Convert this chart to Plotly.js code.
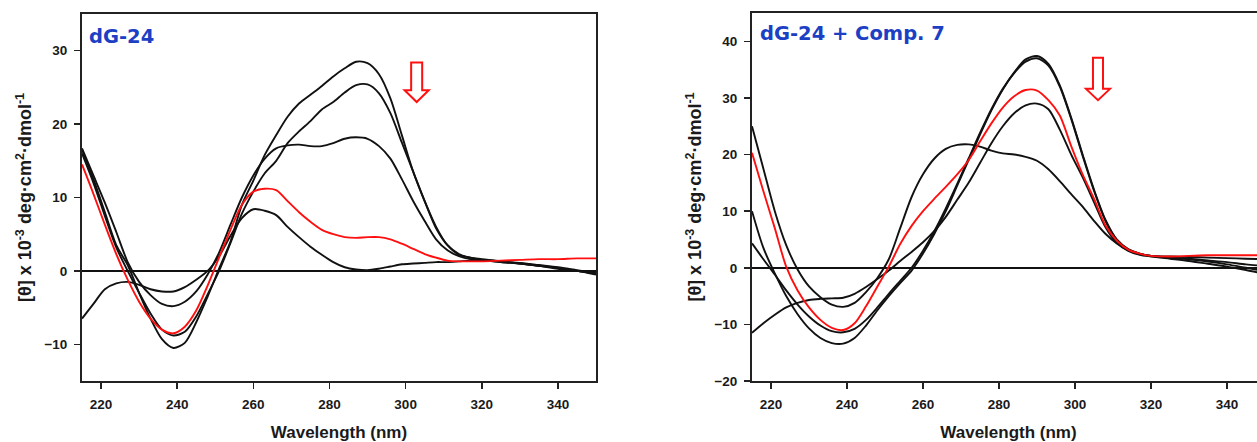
<!DOCTYPE html>
<html>
<head>
<meta charset="utf-8">
<script src="https://cdn.plot.ly/plotly-3.0.1.min.js"></script>
<style>
  html, body { margin: 0; padding: 0; overflow: hidden; background: #fff; }
  #chart { width: 1275px; height: 442px; }
</style>
</head>
<body>
<div id="chart"></div>
<script>
// ---------- Data (wavelength in nm, ellipticity [θ] x 10^-3) ----------
const wavelength = [215, 218, 221, 224, 227, 230, 233, 236, 239, 242, 245, 248, 251, 254, 257, 260, 263, 266, 269, 272, 275, 278, 281, 284, 287, 290, 293, 296, 299, 302, 305, 308, 311, 314, 317, 320, 325, 330, 335, 340, 345, 350];

// Panel 1: dG-24
const dg24_a = [16.5, 12.5, 8.0, 3.5, 0.8, -3.0, -6.5, -9.3, -10.5, -9.8, -7.0, -3.5, 0.3, 4.0, 9.0, 12.3, 15.8, 18.5, 21.0, 22.8, 24.0, 25.2, 26.5, 27.6, 28.5, 28.3, 26.8, 23.5, 18.5, 13.5, 9.5, 6.0, 3.5, 2.2, 1.8, 1.5, 1.2, 1.0, 0.7, 0.4, 0.0, -0.5];
const dg24_b = [16.0, 12.0, 7.5, 3.2, 0.0, -3.0, -5.8, -8.0, -8.8, -8.3, -6.2, -3.2, 0.0, 3.8, 7.8, 10.8, 13.3, 15.0, 17.4, 19.0, 20.4, 22.0, 23.0, 24.3, 25.3, 25.4, 24.2, 21.5, 17.5, 13.5, 9.5, 5.8, 3.5, 2.3, 1.8, 1.6, 1.3, 1.1, 0.8, 0.5, 0.1, -0.3];
const dg24_c = [16.7, 13.0, 9.3, 5.3, 1.2, -1.5, -3.3, -4.5, -4.8, -4.2, -2.8, -0.5, 2.5, 6.3, 10.0, 13.0, 15.3, 16.7, 17.1, 17.2, 17.0, 17.0, 17.4, 18.0, 18.2, 18.0, 17.0, 15.3, 12.5, 9.5, 6.8, 4.3, 2.8, 2.0, 1.6, 1.5, 1.3, 1.0, 0.7, 0.3, 0.0, -0.4];
const dg24_d = [-6.5, -4.5, -2.5, -1.7, -1.5, -1.9, -2.5, -2.8, -2.8, -2.2, -1.2, 0.0, 2.0, 4.8, 7.2, 8.4, 8.2, 7.6, 6.0, 4.6, 3.3, 2.2, 1.2, 0.5, 0.2, 0.1, 0.3, 0.6, 0.9, 1.0, 1.1, 1.2, 1.2, 1.3, 1.4, 1.4, 1.2, 1.0, 0.7, 0.4, 0.0, -0.3];
const dg24_red = [14.5, 10.5, 6.3, 2.3, -1.2, -4.2, -6.5, -8.0, -8.5, -7.6, -5.4, -2.0, 1.8, 5.6, 9.0, 10.8, 11.2, 11.0, 9.5, 8.0, 6.7, 5.6, 5.0, 4.6, 4.5, 4.6, 4.6, 4.3, 3.7, 3.0, 2.3, 1.8, 1.4, 1.3, 1.3, 1.3, 1.4, 1.5, 1.6, 1.6, 1.7, 1.7];

// Panel 2: dG-24 + Comp. 7
const comp7_a = [10.0, 3.5, -1.0, -5.0, -8.2, -10.7, -12.4, -13.3, -13.4, -12.4, -10.2, -7.5, -5.0, -2.7, -0.5, 2.5, 6.0, 10.0, 14.5, 19.0, 23.5, 27.8, 31.5, 34.5, 36.8, 37.4, 36.0, 32.2, 26.5, 20.0, 13.8, 8.5, 5.0, 3.3, 2.5, 2.1, 1.8, 1.5, 1.1, 0.6, 0.0, -0.6];
const comp7_b = [4.3, 1.5, -1.2, -4.0, -6.5, -8.6, -10.2, -11.2, -11.4, -10.8, -9.2, -7.0, -4.6, -2.3, 0.0, 3.0, 6.5, 10.5, 14.8, 19.3, 23.8, 28.0, 31.6, 34.4, 36.4, 37.0, 35.7, 32.0, 26.3, 19.8, 13.6, 8.3, 4.9, 3.2, 2.5, 2.1, 1.8, 1.6, 1.3, 1.0, 0.6, 0.3];
const comp7_c = [-11.5, -9.8, -8.3, -7.0, -6.2, -5.7, -5.5, -5.4, -5.3, -4.6, -3.4, -2.0, -0.5, 1.2, 2.8, 4.5, 6.5, 9.0, 12.0, 15.0, 18.5, 22.0, 25.0, 27.3, 28.7, 29.0, 28.0, 24.4, 20.0, 16.0, 11.6, 7.2, 4.4, 3.0, 2.3, 2.0, 1.6, 1.2, 0.7, 0.2, -0.4, -1.1];
const comp7_d = [25.0, 17.5, 10.0, 4.0, -0.3, -3.3, -5.2, -6.5, -6.9, -6.2, -4.3, -1.8, 1.5, 7.0, 12.5, 16.5, 19.3, 21.0, 21.7, 21.8, 21.4, 20.7, 20.2, 20.0, 19.6, 18.9, 17.4, 15.3, 13.0, 10.8, 8.3, 6.0, 4.3, 3.1, 2.4, 2.1, 2.0, 1.9, 1.8, 1.7, 1.6, 1.5];
const comp7_red = [20.3, 13.5, 7.0, 0.2, -4.0, -7.0, -9.2, -10.6, -11.0, -9.8, -6.8, -3.3, 0.2, 4.2, 7.4, 10.0, 12.2, 14.3, 16.5, 19.0, 22.3, 25.5, 28.3, 30.3, 31.4, 31.3, 29.6, 26.9, 21.5, 16.5, 12.2, 7.5, 4.8, 3.2, 2.5, 2.1, 2.0, 2.1, 2.2, 2.2, 2.2, 2.2];

const panelLabels = ["dG-24", "dG-24 + Comp. 7"];
const xTickVals = [220, 240, 260, 280, 300, 320, 340];
const yTickVals1 = [-10, 0, 10, 20, 30];
const yTickVals2 = [-20, -10, 0, 10, 20, 30, 40];

// ---------- Styling ----------
const BLACK = "#111111";
const RED = "#ff1010";
const LW = 1.9;

function line(y, color, xa, ya) {
  return {
    x: wavelength, y: y, type: "scatter", mode: "lines",
    line: { color: color, width: LW, shape: "spline", smoothing: 0.8 },
    xaxis: xa, yaxis: ya, hoverinfo: "skip", showlegend: false
  };
}

const traces = [
  line(dg24_a, BLACK, "x", "y"),
  line(dg24_b, BLACK, "x", "y"),
  line(dg24_c, BLACK, "x", "y"),
  line(dg24_d, BLACK, "x", "y"),
  line(dg24_red, RED, "x", "y"),
  line(comp7_a, BLACK, "x2", "y2"),
  line(comp7_b, BLACK, "x2", "y2"),
  line(comp7_c, BLACK, "x2", "y2"),
  line(comp7_d, BLACK, "x2", "y2"),
  line(comp7_red, RED, "x2", "y2")
];

const W = 1275, H = 442;
const tickFont = { family: "Liberation Sans, Arial, sans-serif", size: 13.5, color: "#1a1a1a", weight: "bold" };
const xTitleFont = { family: "Liberation Sans, Arial, sans-serif", size: 17, color: "#1a1a1a", weight: "bold" };
const yTitleFont = { family: "Liberation Sans, Arial, sans-serif", size: 18, color: "#1a1a1a", weight: "bold" };
const yTitle = "[θ] x 10<sup>-3</sup> deg·cm<sup>2</sup>·dmol<sup>-1</sup>";

function xAxis(domain, anchor) {
  return {
    domain: domain, anchor: anchor, range: [215, 350],
    tickvals: xTickVals, ticks: "outside", ticklen: 6, tickwidth: 1.5, tickcolor: "#222",
    showline: true, linecolor: "#222", linewidth: 2, mirror: true,
    showgrid: false, zeroline: false, tickfont: tickFont, ticklabelstandoff: 4,
    title: { text: "Wavelength (nm)", font: xTitleFont, standoff: 16 },
    automargin: false, fixedrange: true
  };
}
function yAxis(domain, anchor, range, ticks) {
  return {
    domain: domain, anchor: anchor, range: range,
    tickvals: ticks, ticks: "outside", ticklen: 6, tickwidth: 1.5, tickcolor: "#222",
    showline: true, linecolor: "#222", linewidth: 2, mirror: true,
    showgrid: false, zeroline: true, zerolinecolor: "#111", zerolinewidth: 1.6,
    tickfont: tickFont, ticklabelstandoff: 4,
    title: { text: yTitle, font: yTitleFont, standoff: 8 },
    automargin: false, fixedrange: true
  };
}

const layout = {
  width: W, height: H,
  margin: { l: 0, r: 0, t: 0, b: 0 },
  paper_bgcolor: "#ffffff", plot_bgcolor: "#ffffff",
  showlegend: false,
  xaxis: xAxis([82 / W, 596 / W], "y"),
  yaxis: yAxis([1 - 381 / H, 1 - 14 / H], "x", [-15, 35], yTickVals1),
  xaxis2: xAxis([752 / W, 1265 / W], "y2"),
  yaxis2: yAxis([1 - 381 / H, 1 - 13 / H], "x2", [-20, 45], yTickVals2),
  annotations: [
    { text: panelLabels[0], xref: "x", yref: "y", x: 216.2, y: 31.9, xanchor: "left", yanchor: "middle",
      showarrow: false, font: { family: "DejaVu Sans, sans-serif", size: 19.5, color: "#1c3fc4", weight: "bold" } },
    { text: panelLabels[1], xref: "x2", yref: "y2", x: 216.6, y: 41.3, xanchor: "left", yanchor: "middle",
      showarrow: false, font: { family: "DejaVu Sans, sans-serif", size: 19.5, color: "#1c3fc4", weight: "bold" } }
  ],
  shapes: [
    { type: "path", xref: "x", yref: "y",
      path: "M 301.45 28.4 L 304.35 28.4 L 304.35 24.6 L 306.06 24.6 L 302.9 23.0 L 299.74 24.6 L 301.45 24.6 Z",
      line: { color: RED, width: 2 }, fillcolor: "#ffffff" },
    { type: "path", xref: "x2", yref: "y2",
      path: "M 304.73 37.1 L 307.37 37.1 L 307.37 31.6 L 309.21 31.6 L 306.05 29.6 L 302.89 31.6 L 304.73 31.6 Z",
      line: { color: RED, width: 2 }, fillcolor: "#ffffff" }
  ]
};

Plotly.newPlot("chart", traces, layout, { staticPlot: true, displayModeBar: false });
</script>
</body>
</html>
